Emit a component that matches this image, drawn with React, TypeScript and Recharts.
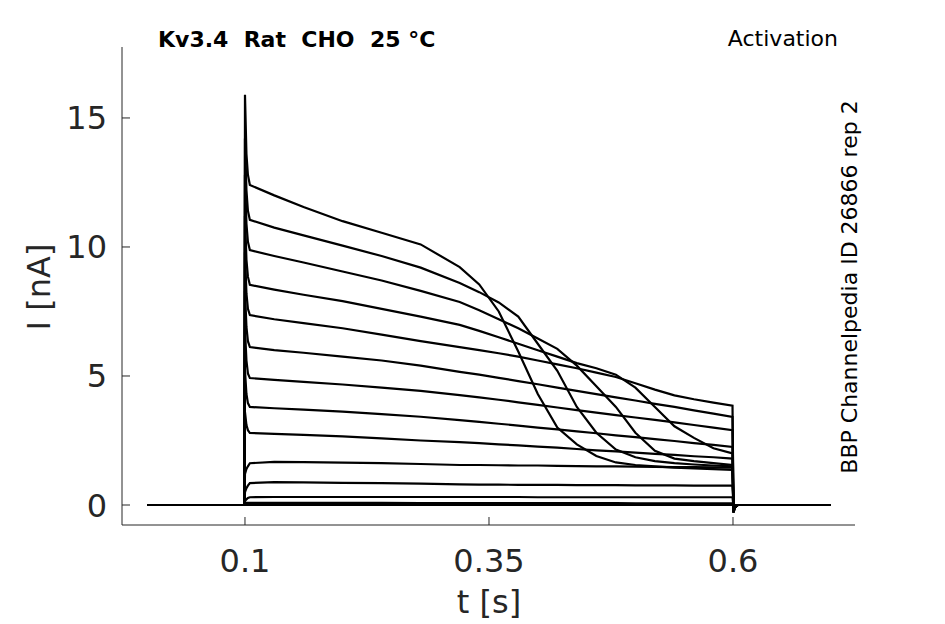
import React from "react";
import { LineChart, Line, XAxis, YAxis } from "recharts";

// sample times [s] shared by every sweep
const TIMES = [
  0, 0.0995, 0.1, 0.1015, 0.103, 0.105, 0.13, 0.16, 0.2, 0.24, 0.28, 0.32, 0.34, 0.36, 0.38, 0.4,
  0.42, 0.44, 0.46, 0.48, 0.5, 0.52, 0.54, 0.56, 0.58, 0.5995, 0.6005, 0.602, 0.605, 0.7,
];

// current [nA] of each sweep, one value per time above
const SWEEP_1 = [0, 0, 15.9, 13.6, 12.8, 12.4, 12.0, 11.55, 11.0, 10.55, 10.1, 9.22, 8.55, 7.5, 5.95, 4.3, 3.0, 2.35, 1.9, 1.65, 1.55, 1.5, 1.45, 1.42, 1.39, 1.36, -0.3, -0.1, 0, 0];
const SWEEP_2 = [0, 0, 14.2, 12.2, 11.4, 11.05, 10.75, 10.45, 10.05, 9.65, 9.2, 8.6, 8.25, 7.85, 7.3, 6.25, 5.2, 3.8, 2.8, 2.15, 1.85, 1.7, 1.62, 1.57, 1.53, 1.5, -0.3, -0.1, 0, 0];
const SWEEP_3 = [0, 0, 12.8, 10.9, 10.2, 9.88, 9.65, 9.4, 9.05, 8.7, 8.3, 7.87, 7.55, 7.2, 6.85, 6.45, 6.05, 5.4, 4.6, 3.8, 2.8, 2.1, 1.8, 1.7, 1.62, 1.55, -0.25, -0.1, 0, 0];
const SWEEP_4 = [0, 0, 11.2, 9.5, 8.85, 8.53, 8.35, 8.15, 7.9, 7.6, 7.3, 6.98, 6.75, 6.5, 6.25, 6.0, 5.75, 5.5, 5.3, 5.05, 4.55, 3.8, 3.05, 2.6, 2.2, 2.0, -0.25, -0.1, 0, 0];
const SWEEP_5 = [0, 0, 9.8, 8.2, 7.6, 7.36, 7.2, 7.05, 6.85, 6.6, 6.35, 6.12, 6.0, 5.88, 5.75, 5.6, 5.45, 5.3, 5.13, 4.96, 4.72, 4.47, 4.25, 4.1, 3.97, 3.85, -0.2, -0.05, 0, 0];
const SWEEP_6 = [0, 0, 8.3, 6.9, 6.35, 6.12, 6.0, 5.9, 5.75, 5.6, 5.4, 5.16, 5.05, 4.93, 4.8, 4.68, 4.55, 4.42, 4.3, 4.17, 4.05, 3.92, 3.8, 3.67, 3.54, 3.41, -0.2, -0.05, 0, 0];
const SWEEP_7 = [0, 0, 6.8, 5.6, 5.1, 4.92, 4.85, 4.77, 4.67, 4.55, 4.42, 4.26, 4.17, 4.08, 3.98, 3.88, 3.78, 3.68, 3.58, 3.48, 3.39, 3.3, 3.2, 3.1, 3.0, 2.9, -0.15, -0.05, 0, 0];
const SWEEP_8 = [0, 0, 5.2, 4.3, 3.95, 3.8, 3.75, 3.7, 3.62, 3.52, 3.42, 3.29, 3.22, 3.15, 3.08, 3.0, 2.93, 2.85, 2.78, 2.7, 2.63, 2.55, 2.48, 2.4, 2.33, 2.25, -0.15, -0.05, 0, 0];
const SWEEP_9 = [0, 0, 3.6, 3.1, 2.9, 2.79, 2.76, 2.72, 2.66, 2.58, 2.5, 2.44, 2.4, 2.35, 2.31, 2.26, 2.22, 2.17, 2.12, 2.08, 2.03, 1.98, 1.94, 1.89, 1.85, 1.8, -0.1, -0.05, 0, 0];
const SWEEP_10 = [0, 0, 1.2, 1.4, 1.5, 1.62, 1.67, 1.66, 1.64, 1.62, 1.59, 1.55, 1.55, 1.54, 1.53, 1.53, 1.52, 1.51, 1.5, 1.5, 1.49, 1.48, 1.47, 1.47, 1.46, 1.45, -0.1, 0, 0, 0];
const SWEEP_11 = [0, 0, 0.5, 0.65, 0.75, 0.85, 0.89, 0.88, 0.86, 0.85, 0.83, 0.8, 0.79, 0.79, 0.78, 0.78, 0.78, 0.77, 0.77, 0.77, 0.76, 0.76, 0.76, 0.75, 0.75, 0.75, -0.05, 0, 0, 0];
const SWEEP_12 = [0, 0, 0.15, 0.22, 0.27, 0.3, 0.31, 0.31, 0.31, 0.31, 0.31, 0.31, 0.31, 0.31, 0.31, 0.3, 0.3, 0.3, 0.3, 0.3, 0.3, 0.3, 0.3, 0.3, 0.3, 0.3, -0.05, 0, 0, 0];
const SWEEP_13 = [0, 0, 0.06, 0.08, 0.08, 0.08, 0.08, 0.08, 0.08, 0.08, 0.07, 0.07, 0.07, 0.07, 0.07, 0.07, 0.07, 0.07, 0.07, 0.07, 0.06, 0.06, 0.06, 0.06, 0.06, 0.06, -0.03, 0, 0, 0];
const SWEEP_14 = [0, 0, 0, 0, 0, 0, 0, 0, 0, 0, 0, 0, 0, 0, 0, 0, 0, 0, 0, 0, 0, 0, 0, 0, 0, 0, 0, 0, 0, 0];

const SWEEPS = [
  SWEEP_14, SWEEP_13, SWEEP_12, SWEEP_11, SWEEP_10, SWEEP_9, SWEEP_8,
  SWEEP_7, SWEEP_6, SWEEP_5, SWEEP_4, SWEEP_3, SWEEP_2, SWEEP_1,
];

const X_TICKS = [0.1, 0.35, 0.6];
const Y_TICKS = [0, 5, 10, 15];

const INK = "#262626";
const FONT = "DejaVu Sans";
const PLOT_LEFT = 122;
const PLOT_BOTTOM = 525;

function XTick(props: any) {
  const { x, payload } = props;
  return (
    <g>
      <line x1={x} y1={PLOT_BOTTOM} x2={x} y2={PLOT_BOTTOM - 8} stroke={INK} strokeWidth={1} />
      <text x={x} y={572} textAnchor="middle" fontSize={32} fontFamily={FONT} fill={INK}>
        {payload.value}
      </text>
    </g>
  );
}

function YTick(props: any) {
  const { y, payload } = props;
  return (
    <g>
      <line x1={PLOT_LEFT} y1={y} x2={PLOT_LEFT + 8} y2={y} stroke={INK} strokeWidth={1} />
      <text x={107} y={y + 11.5} textAnchor="end" fontSize={32} fontFamily={FONT} fill={INK}>
        {payload.value}
      </text>
    </g>
  );
}

export default function App() {
  const data = TIMES.map((t, k) => {
    const row: Record<string, number> = { t };
    SWEEPS.forEach((s, j) => {
      row[`s${j}`] = s[k];
    });
    return row;
  });

  return (
    <div style={{ position: "absolute", left: 0, top: 0, width: 945, height: 624, background: "#fff" }}>
      <LineChart width={945} height={624} data={data} margin={{ top: 47, right: 90, bottom: 0, left: 0 }}>
        <XAxis
          dataKey="t"
          type="number"
          domain={[-0.026, 0.725]}
          ticks={X_TICKS}
          interval={0}
          allowDataOverflow
          height={99}
          tickSize={0}
          tickMargin={0}
          tickLine={false}
          axisLine={{ stroke: INK, strokeWidth: 1 }}
          tick={(p: any) => <XTick {...p} />}
        />
        <YAxis
          type="number"
          domain={[-0.775, 17.75]}
          ticks={Y_TICKS}
          interval={0}
          allowDataOverflow
          width={122}
          tickSize={0}
          tickMargin={0}
          tickLine={false}
          axisLine={{ stroke: INK, strokeWidth: 1 }}
          tick={(p: any) => <YTick {...p} />}
        />
        {SWEEPS.map((_, j) => (
          <Line
            key={j}
            type="linear"
            dataKey={`s${j}`}
            stroke="#000"
            strokeWidth={2.2}
            dot={false}
            activeDot={false}
            isAnimationActive={false}
          />
        ))}
      </LineChart>
      <svg
        width={945}
        height={624}
        style={{ position: "absolute", left: 0, top: 0, pointerEvents: "none" }}
        fontFamily={FONT}
      >
        <text x={158} y={47} fontSize={22} fontWeight="bold" fill="#000" style={{ whiteSpace: "pre" }}>
          {"Kv3.4  Rat  CHO  25 °C"}
        </text>
        <text x={838} y={46} fontSize={22} textAnchor="end" fill="#000">
          Activation
        </text>
        <text
          x={849}
          y={287}
          fontSize={22}
          textAnchor="middle"
          dominantBaseline="central"
          transform="rotate(-90 849 287)"
          fill="#000"
        >
          BBP Channelpedia ID 26866 rep 2
        </text>
        <text x={489} y={613} fontSize={32} textAnchor="middle" fill={INK}>
          t [s]
        </text>
        <text
          x={39}
          y={287}
          fontSize={32}
          textAnchor="middle"
          dominantBaseline="central"
          transform="rotate(-90 39 287)"
          fill={INK}
        >
          I [nA]
        </text>
      </svg>
    </div>
  );
}
